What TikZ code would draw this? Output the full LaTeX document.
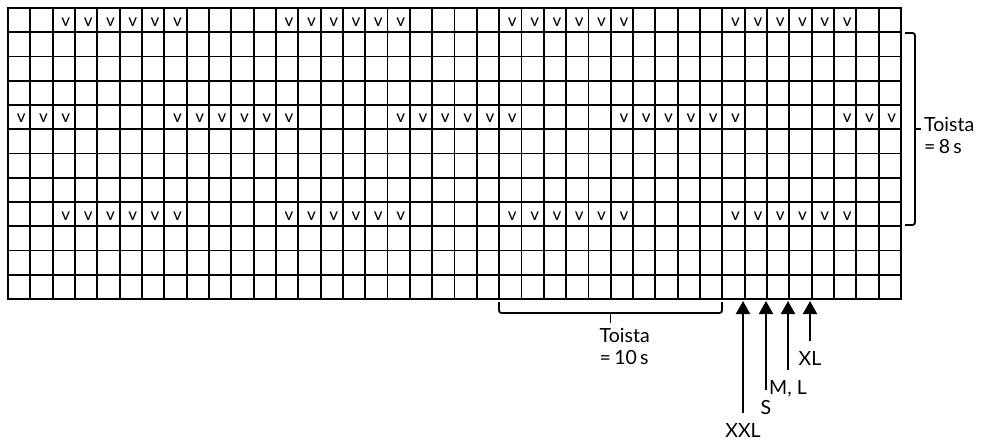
\documentclass[tikz,border=0pt]{standalone}
\usepackage{fontspec}
\setmainfont{Lato}
\usepackage{tikz}
\usetikzlibrary{arrows.meta,positioning,calc}
\newcommand{\cellw}{22.325}
\newcommand{\cellh}{24.25}

\begin{document}
\begin{tikzpicture}[
    x=1pt, y=-1pt,
    gridline/.style={line width=1.9pt, line cap=rect},
    stitch/.style={font=\fontsize{17}{17}\selectfont, inner sep=0pt},
    bracket/.style={line width=1.8pt, rounded corners=2.5pt},
    sizearrow/.style={line width=2pt, -{Triangle[width=14pt,length=13pt]}},
    sizetext/.style={font=\fontsize{19.5}{22}\selectfont, inner sep=0pt},
    bracetext/.style={font=\fontsize{19.5}{22}\selectfont, align=left, inner sep=0pt}
]
\useasboundingbox (0,0) rectangle (985,441);
% grid, 40 x 12 cells
\foreach \c in {0,...,40}
  \draw[gridline] ({8+\c*\cellw},8) -- ({8+\c*\cellw},299);
\foreach \r in {0,...,12}
  \draw[gridline] (8,{8+\r*\cellh}) -- (901,{8+\r*\cellh});
% v marks, pattern repeats every 10 columns
\foreach \k in {0,...,3}
  \foreach \i in {0,...,5} {
    \pgfmathtruncatemacro{\ca}{2+\i+10*\k}
    \pgfmathtruncatemacro{\cb}{mod(7+\i+10*\k,40)}
    \node[stitch] (vtop-\ca) at ({8+(\ca+0.5)*\cellw+2},{8+0.5*\cellh+2}) {v};
    \node[stitch] (vmid-\cb) at ({8+(\cb+0.5)*\cellw+2},{8+4.5*\cellh+1.5}) {v};
    \node[stitch] (vbot-\ca) at ({8+(\ca+0.5)*\cellw+2},{8+8.5*\cellh+2}) {v};
  }
% repeat over 8 rows
\coordinate (rtop) at (905,33);
\coordinate (rbot) at (905,225);
\draw[bracket] (rtop) -- ++(10,0) |- (rbot);
\coordinate (rmid) at ($(rtop)!0.5!(rbot)+(10,0)$);
\draw[bracket] (rmid) -- ++(6,0) coordinate (rtip);
\node[bracetext, anchor=west] (rtext) at ($(rtip)+(3,6)$) {Toista\\=\,8\,s};
% repeat over 10 columns
\coordinate (bleft) at (499,302);
\coordinate (bright) at (722,302);
\draw[bracket] (bleft) |- ($(bright)+(0,11)$) -- (bright);
\draw[bracket] ($(bleft)!0.5!(bright)+(0,11)$) -- ++(0,10) coordinate (btip);
\node[bracetext, anchor=north west] (btext) at ($(btip)+(-11,5)$) {Toista\\=\,10\,s};
% size start points
\coordinate (xxlend) at (743,413);
\coordinate (xxltip) at (743,301);
\draw[sizearrow] (xxlend) -- (xxltip);
\node[sizetext, below=10pt of xxlend] (xxl) {XXL};
\coordinate (send) at (766,390);
\coordinate (stip) at (766,301);
\draw[sizearrow] (send) -- (stip);
\node[sizetext, below=10pt of send] (s) {S};
\coordinate (mlend) at (788,370);
\coordinate (mltip) at (788,301);
\draw[sizearrow] (mlend) -- (mltip);
\node[sizetext, below=10pt of mlend] (ml) {M, L};
\coordinate (xlend) at (810,341);
\coordinate (xltip) at (810,301);
\draw[sizearrow] (xlend) -- (xltip);
\node[sizetext, below=10pt of xlend] (xl) {XL};
\end{tikzpicture}
\end{document}
